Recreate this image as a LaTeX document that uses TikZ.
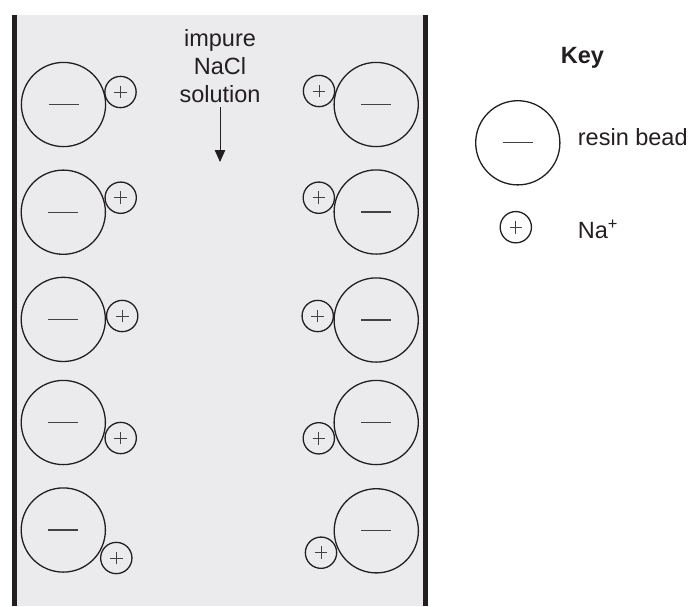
\documentclass[tikz,border=0pt]{standalone}
\usepackage{fontspec}
\setmainfont{Liberation Sans}
\usetikzlibrary{arrows.meta}
\definecolor{ink}{RGB}{35,31,32}
\definecolor{liquid}{RGB}{235,235,237}
\tikzset{
  bead/.style={circle, draw=ink, line width=1.3pt, inner sep=0pt, minimum size=84.2pt,
    path picture={\draw[ink!85, line width=1.2pt]
      ([xshift=-15pt]path picture bounding box.center) -- ([xshift=15pt]path picture bounding box.center);}},
  ion/.style={circle, draw=ink, line width=1.3pt, inner sep=0pt, minimum size=31.3pt,
    path picture={\draw[ink!85, line width=1pt]
      ([xshift=-6.3pt]path picture bounding box.center) -- ([xshift=6.3pt]path picture bounding box.center)
      ([yshift=-6.3pt]path picture bounding box.center) -- ([yshift=6.3pt]path picture bounding box.center);}},
  wall/.style={draw=ink, line width=5pt},
  txt/.style={font=\fontsize{23.5}{28}\selectfont, inner sep=0pt, text=ink},
}
\begin{document}
\begin{tikzpicture}[x=1pt, y=-1pt]
  \useasboundingbox (0,0) rectangle (692,606);
  % column of solution and its walls
  \fill[liquid] (16,15) rectangle (423,606);
  \draw[wall] (14,15) -- (14,606);
  \draw[wall] (425.7,15) -- (425.7,606);

  % left-hand resin beads with their sodium ions
  \node[bead] (l1) at (63.5,104.5) {};  \node[ion] (lp1) at (120.5,92) {};
  \node[bead] (l2) at (63.3,212.2) {};  \node[ion] (lp2) at (120.7,197.7) {};
  \node[bead] (l3) at (63.3,319.4) {};  \node[ion] (lp3) at (122.2,316) {};
  \node[bead] (l4) at (63.3,422.5) {};  \node[ion] (lp4) at (120.7,438) {};
  \node[bead] (l5) at (63.3,530) {};    \node[ion] (lp5) at (116.3,558) {};

  % right-hand resin beads with their sodium ions
  \node[bead] (r1) at (376.2,104.5) {}; \node[ion] (rp1) at (319,91) {};
  \node[bead] (r2) at (376.2,212) {};   \node[ion] (rp2) at (318.8,197.7) {};
  \node[bead] (r3) at (376.2,320) {};   \node[ion] (rp3) at (317.7,316) {};
  \node[bead] (r4) at (376.2,422.5) {}; \node[ion] (rp4) at (318.8,438.3) {};
  \node[bead] (r5) at (376.3,530.8) {}; \node[ion] (rp5) at (321,552.7) {};

  % incoming solution (base anchor sits on the last line)
  \node[txt, align=center, anchor=base] (feed) at (220,102) {impure\\NaCl\\solution};
  \coordinate (flowtop) at (220,107);
  \coordinate (flowtip) at (220,162);
  \draw[ink, line width=1pt, -{Triangle[width=10.5pt,length=12pt]}] (flowtop) -- (flowtip);

  % key
  \node[txt, font=\fontsize{23.5}{28}\selectfont\bfseries, anchor=base] (key) at (582.5,63.3) {Key};
  \node[bead] (kb) at (517.8,142.8) {};
  \node[txt, anchor=base west] (kbt) at (577.7,145) {resin bead};
  \node[ion] (ki) at (515.8,227.2) {};
  \node[txt, anchor=base west] (kit) at (577.7,238.3) {Na\textsuperscript{+}};
\end{tikzpicture}
\end{document}
